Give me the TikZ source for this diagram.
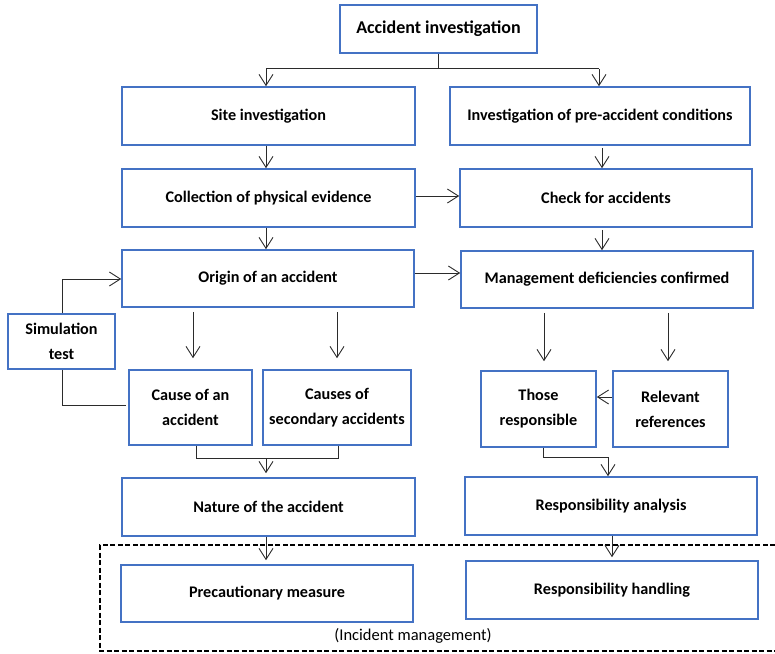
\documentclass[tikz,border=0pt]{standalone}
\usepackage{fontspec}
\setmainfont{Carlito}
\usetikzlibrary{arrows.meta}
\definecolor{boxblue}{HTML}{4472C4}
\definecolor{wire}{HTML}{2B2B2B}
\tikzset{
  box/.style={draw=boxblue, line width=1.6pt, fill=white, inner sep=2pt,
    align=center, font=\bfseries\fontsize{16.2}{25}\selectfont},
  arr/.style={draw=wire, line width=0.9pt,
    -{Straight Barb[length=11pt,width=14pt,line width=0.9pt]}},
  wireline/.style={draw=wire, line width=0.9pt},
  zone/.style={draw=black, line width=1.4pt, dash pattern=on 5pt off 2.5pt},
}
\begin{document}
\begin{tikzpicture}[x=1pt,y=-1pt]
\useasboundingbox (0,0) rectangle (775,653);

% boxes
\node[box, minimum width=197pt, minimum height=48pt, font=\bfseries\fontsize{18}{20}\selectfont] (top) at (438.5,29) {Accident investigation};
\node[box, minimum width=293pt, minimum height=58pt] (site) at (268.5,116) {Site investigation};
\node[box, minimum width=300pt, minimum height=58pt] (pre) at (600,116) {Investigation of pre-accident conditions};
\node[box, minimum width=293pt, minimum height=58pt] (coll) at (268.5,198) {Collection of physical evidence};
\node[box, minimum width=292pt, minimum height=58pt] (check) at (606,198) {Check for accidents};
\node[box, minimum width=292pt, minimum height=57pt] (origin) at (268,278.5) {Origin of an accident};
\node[box, minimum width=292pt, minimum height=57pt] (mgmt) at (607,279.5) {Management deficiencies confirmed};
\node[box, minimum width=107pt, minimum height=55pt] (sim) at (61.5,341.5) {Simulation\\test};
\node[box, minimum width=123pt, minimum height=75pt] (cause) at (190.5,407.5) {Cause of an\\accident};
\node[box, minimum width=148pt, minimum height=75pt] (causes) at (337,407.5) {Causes of\\secondary accidents};
\node[box, minimum width=115pt, minimum height=76pt] (those) at (538.5,409) {Those\\responsible};
\node[box, minimum width=115pt, minimum height=76pt] (relev) at (670.5,409) {Relevant\\references};
\node[box, minimum width=293pt, minimum height=58pt] (nature) at (268.5,507) {Nature of the accident};
\node[box, minimum width=292pt, minimum height=58pt] (analysis) at (611,506) {Responsibility analysis};
\node[box, minimum width=292pt, minimum height=57pt] (prec) at (267,593.5) {Precautionary measure};
\node[box, minimum width=292pt, minimum height=58pt] (handling) at (612,590) {Responsibility handling};

% incident management zone (open on the right)
\draw[zone] (775,545) -- (100,545) -- (100,651) -- (775,651);
\node[font=\fontsize{16.5}{18}\selectfont] (zonelabel) at (413,636) {(Incident management)};

% top branch
\draw[wireline] (top.south) -- ++(0,15) coordinate (split);
\draw[wireline] ([xshift=-2.5pt]site.north |- split) -- ([xshift=-1pt]pre.north |- split);
\draw[arr] ([xshift=-2.5pt]site.north |- split) -- ([xshift=-2.5pt]site.north);
\draw[arr] ([xshift=-1pt]pre.north |- split) -- ([xshift=-1pt]pre.north);

% left column
\draw[arr] ([xshift=-2.5pt]site.south) -- ([xshift=-2.5pt]coll.north);
\draw[arr] ([xshift=-2.5pt]coll.south) -- ([xshift=-2.5pt]coll.south |- origin.north);
\draw[arr] ([yshift=2pt]coll.east) -- ([yshift=2pt]coll.east -| check.west);
\draw[arr] ([yshift=5.5pt]origin.east) -- ([yshift=5.5pt]origin.east -| mgmt.west);

% right column
\draw[arr] ([xshift=2pt,yshift=-2pt]pre.south) -- ([xshift=2pt]pre.south |- check.north);
\draw[arr] ([xshift=2pt,yshift=-2pt]pre.south |- check.south) -- ([xshift=2pt]pre.south |- mgmt.north);

% origin to causes
\draw[arr] ([xshift=2.5pt,yshift=-4pt]cause.north |- origin.south) -- ([xshift=2.5pt,yshift=11pt]cause.north);
\draw[arr] ([yshift=-4pt]causes.north |- origin.south) -- ([yshift=11pt]causes.north);

% simulation test loop
\draw[arr] ([xshift=0.5pt]sim.north) |- ([yshift=-0.5pt]origin.west);
\draw[wireline] ([xshift=0.5pt]sim.south) |- ([xshift=-2pt,yshift=2.5pt]cause.west);

% causes merge into nature
\draw[wireline] ([xshift=5.5pt]cause.south) -- ++(0,13) coordinate (mergeL)
  -| ([xshift=1pt]causes.south);
\draw[arr] ([xshift=-2.5pt]nature.north |- mergeL) -- ([xshift=-2.5pt,yshift=4pt]nature.north);

% management to responsibility
\draw[arr] ([xshift=5.5pt,yshift=-4pt]those.north |- mgmt.south) -- ([xshift=5.5pt,yshift=9pt]those.north);
\draw[arr] ([xshift=-2.5pt,yshift=-4pt]relev.north |- mgmt.south) -- ([xshift=-2.5pt,yshift=9pt]relev.north);
\draw[arr] ([yshift=12pt]relev.west) -- ([yshift=12pt]relev.west -| those.east);

% those responsible to analysis
\draw[wireline] ([xshift=4.5pt]those.south) -- ++(0,10) coordinate (bendR);
\draw[arr] (bendR) -| ([xshift=-3pt]analysis.north);

% into the management zone
\draw[arr] ([xshift=-2.5pt]nature.south) -- ([xshift=-1pt,yshift=4pt]prec.north);
\draw[arr] ([xshift=1pt]analysis.south) -- ([yshift=3pt]handling.north);
\end{tikzpicture}
\end{document}
